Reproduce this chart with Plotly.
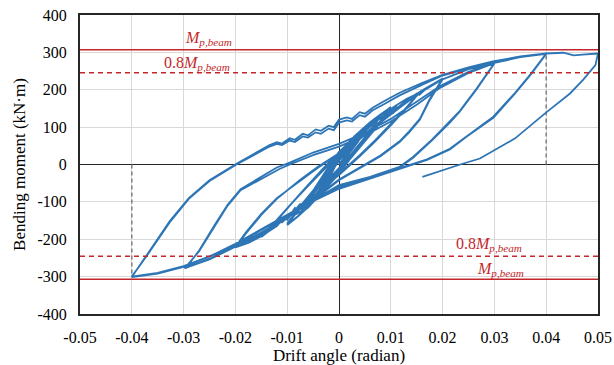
import plotly.graph_objects as go

# ---------------- data ----------------
drift_0375 = [0, 0.002, 0.00375, 0.002, 0, -0.002, -0.00375, -0.002, 0,
              0.002, 0.00375, 0.002, 0, -0.002, -0.00375, -0.002, 0,
              0.002, 0.00375, 0.002, 0, -0.002, -0.00375, -0.002, 0,
              0.002, 0.00375, 0.002, 0, -0.002, -0.00375, -0.002, 0]
moment_0375 = [0, 38, 62, 30, -10, -40, -64, -30, 10,
               42, 63, 32, -12, -42, -66, -28, 14,
               44, 64, 30, -11, -41, -65, -29, 15,
               45, 65, 31, -10, -40, -66, -27, 16]

drift_005 = [0.0015, 0.003, 0.005, 0.003, 0.0015, 0, -0.0015, -0.003, -0.005, -0.003, -0.0015, 0,
             0.0015, 0.003, 0.005, 0.003, 0.0015, 0, -0.0015, -0.003, -0.005, -0.003, -0.0015, 0,
             0.0015, 0.003, 0.005, 0.003, 0.0015, 0, -0.0015, -0.003, -0.005, -0.003, -0.0015, 0,
             0.0015, 0.003, 0.005, 0.003, 0.0015, 0, -0.0015, -0.003, -0.005, -0.003, -0.0015, 0]
moment_005 = [40, 62, 86, 52, 25, -12, -36, -60, -90, -55, -25, 15,
              38, 61, 85, 50, 24, -14, -37, -61, -91, -54, -24, 17,
              41, 63, 87, 53, 26, -13, -35, -59, -89, -56, -26, 16,
              42, 64, 88, 54, 27, -11, -34, -58, -90, -53, -23, 18]

drift_0075 = [0.002, 0.004, 0.006, 0.0075, 0.006, 0.004, 0.002, 0, -0.002, -0.004, -0.006, -0.0075, -0.006, -0.004, -0.002, 0,
              0.002, 0.004, 0.006, 0.0075, 0.006, 0.004, 0.002, 0, -0.002, -0.004, -0.006, -0.0075, -0.006, -0.004, -0.002, 0,
              0.002, 0.004, 0.006, 0.0075, 0.006, 0.004, 0.002, 0, -0.002, -0.004, -0.006, -0.0075, -0.006, -0.004, -0.002, 0,
              0.002, 0.004, 0.006, 0.0075, 0.006, 0.004, 0.002, 0, -0.002, -0.004, -0.006, -0.0075, -0.006, -0.004, -0.002, 0]
moment_0075 = [55, 82, 105, 120, 88, 55, 20, -18, -50, -82, -110, -130, -98, -62, -22, 22,
               54, 80, 104, 119, 86, 53, 18, -20, -52, -84, -111, -131, -96, -60, -20, 24,
               56, 83, 106, 121, 89, 56, 21, -17, -49, -81, -109, -129, -99, -63, -23, 25,
               57, 84, 107, 122, 90, 57, 22, -16, -48, -80, -108, -130, -97, -61, -21, 26]

drift_010 = [0.003, 0.006, 0.008, 0.01, 0.008, 0.005, 0.002, 0, -0.003, -0.006, -0.008, -0.01, -0.008, -0.005, -0.002, 0,
             0.003, 0.006, 0.008, 0.01, 0.008, 0.005, 0.002, 0, -0.003, -0.006, -0.0075, -0.008, -0.01, -0.008, -0.005, -0.002, 0,
             0.003, 0.006, 0.008, 0.01, 0.008, 0.005, 0.002, 0, -0.003, -0.006, -0.008, -0.01, -0.008, -0.005, -0.002, 0,
             0.003, 0.006, 0.0065, 0.008, 0.01, 0.008, 0.005, 0.002, 0, -0.003, -0.006, -0.007, -0.0085, -0.01, -0.008, -0.005, -0.002, 0]
moment_010 = [75, 112, 133, 152, 115, 65, 15, -22, -70, -115, -140, -162, -125, -75, -10, 30,
              73, 110, 131, 150, 112, 62, 12, -25, -72, -116, -128, -122, -160, -122, -72, -8, 32,
              76, 113, 134, 153, 116, 66, 16, -21, -69, -113, -139, -161, -124, -74, -9, 31,
              74, 111, 106, 132, 154, 117, 67, 17, -20, -68, -112, -124, -134, -158, -120, -70, -6, 34]

drift_015 = [0.004, 0.008, 0.011, 0.013, 0.0155, 0.013, 0.01, 0.007, 0.004, 0, -0.003, -0.006, -0.008, -0.0085,
             -0.0095, -0.011, -0.0115, -0.013, -0.015, -0.012, -0.009, -0.006, -0.003, 0, 0.003, 0.006, 0.008,
             0.0085, 0.0095, 0.011, 0.0115, 0.013, 0.0155, 0.013, 0.01, 0.007, 0.004, 0, -0.003, -0.006, -0.007,
             -0.0075, -0.009, -0.011, -0.0115, -0.013, -0.015, -0.012, -0.009, -0.006, -0.003, 0]
moment_015 = [85, 130, 158, 175, 192, 150, 105, 62, 22, -28, -62, -98, -122, -116,
              -138, -152, -146, -170, -192, -148, -100, -55, -10, 32, 68, 104, 128,
              122, 138, 155, 150, 172, 193, 152, 108, 65, 25, -25, -60, -100, -112,
              -106, -130, -155, -150, -172, -194, -150, -102, -58, -14, 28]

drift_020 = [0.004, 0.008, 0.01, 0.0105, 0.012, 0.015, 0.0155, 0.017, 0.02, 0.0175, 0.0156, 0.0135, 0.0117, 0.008,
             0.004, 0, -0.004, -0.008, -0.0085, -0.01, -0.0105, -0.012, -0.015, -0.0175, -0.02, -0.018, -0.015,
             -0.012, -0.0076, -0.004, 0, 0.004, 0.008, 0.012, 0.016, 0.02,
             0.0175, 0.0156, 0.0135, 0.0117, 0.008, 0.004, 0, -0.004, -0.008, -0.012, -0.016, -0.02,
             -0.018, -0.015, -0.012, -0.008, -0.004, 0, 0.004, 0.008, 0.012, 0.016, 0.02]
moment_020 = [78, 124, 142, 138, 160, 190, 186, 205, 228, 172, 120, 85, 60, 22,
              -10, -42, -85, -125, -120, -148, -140, -165, -192, -210, -222, -185, -135,
              -92, -42, -5, 30, 72, 115, 160, 198, 230,
              175, 122, 88, 62, 24, -8, -40, -82, -122, -162, -196, -220,
              -182, -132, -90, -48, -8, 28, 68, 112, 155, 195, 228]

drift_030 = [0.025, 0.03, 0.0265, 0.0233, 0.0214, 0.018, 0.0143, 0.0117, 0.006, 0, -0.005, -0.01, -0.015, -0.02,
             -0.025, -0.0298, -0.027, -0.024, -0.0215, -0.019, -0.015, -0.0115, -0.0095, -0.005, 0, 0.005, 0.01,
             0.015, 0.0195, 0.025, 0.03,
             0.0265, 0.0233, 0.0214, 0.018, 0.0143, 0.0117, 0.006, 0, -0.005, -0.01, -0.015, -0.02, -0.025, -0.0295,
             -0.027, -0.024, -0.0215, -0.019, -0.015, -0.012, -0.0095, -0.005, 0, 0.005, 0.01, 0.015, 0.0195, 0.025, 0.03]
moment_030 = [255, 270, 200, 141, 112, 65, 18, -8, -35, -58, -98, -142, -182, -218,
              -252, -278, -232, -165, -110, -69, -38, -12, 0, 25, 48, 78, 115,
              160, 205, 245, 271,
              202, 143, 115, 67, 20, -6, -33, -55, -96, -140, -184, -220, -254, -276,
              -230, -162, -108, -66, -33, -8, 5, 32, 55, 85, 122, 168, 210, 248, 272]

drift_040 = [0.035, 0.04, 0.037, 0.034, 0.0298, 0.0246, 0.0214, 0.017, 0.0117, 0.006, 0, -0.005, -0.01, -0.015,
             -0.02, -0.025, -0.03, -0.035, -0.04, -0.037, -0.0327, -0.029, -0.025, -0.0198, -0.016, -0.0134, -0.012,
             -0.011, -0.0095, -0.0085, -0.007, -0.006, -0.0045, -0.0035, -0.002, -0.001, 0, 0.0015, 0.0025, 0.004,
             0.005, 0.0065, 0.0085, 0.0117, 0.016, 0.02, 0.025, 0.0297, 0.035, 0.04,
             0.037, 0.034, 0.0298, 0.0246, 0.0214, 0.017, 0.0117, 0.006, 0, -0.005, -0.01, -0.015, -0.02, -0.025,
             -0.03, -0.035, -0.04, -0.037, -0.0327, -0.029, -0.025, -0.0198, -0.016, -0.0134, -0.012, -0.011,
             -0.0095, -0.0085, -0.007, -0.006, -0.0045, -0.0035, -0.002, -0.001, 0, 0.0015, 0.0025, 0.004, 0.005,
             0.0065, 0.0085, 0.0117, 0.016, 0.02, 0.025, 0.0297, 0.035, 0.04]
moment_040 = [287, 296, 240, 190, 125, 74, 40, 12, -12, -38, -65, -98, -136, -176,
              -214, -246, -272, -290, -300, -242, -155, -92, -44, 0, 28, 48, 55,
              52, 64, 60, 75, 72, 86, 82, 96, 92, 112, 118, 115, 132,
              128, 145, 160, 185, 213, 238, 258, 274, 288, 297,
              242, 192, 128, 76, 42, 14, -10, -36, -62, -96, -134, -174, -212, -246,
              -274, -292, -301, -240, -152, -90, -42, 2, 32, 52, 60, 56,
              70, 66, 82, 78, 94, 90, 104, 100, 120, 126, 122, 140, 136,
              152, 168, 192, 218, 240, 260, 276, 289, 297]

drift_050 = [0.0433, 0.0453, 0.047, 0.0485, 0.05, 0.0495, 0.0472, 0.0446, 0.0399, 0.034, 0.0272, 0.0234, 0.0161]
moment_050 = [299, 292, 294, 296, 297, 266, 228, 190, 138, 70, 16, 0, -33]

# reference values
mp_beam = 307                       # plastic moment of beam (kN·m)
ref_drift = [-0.04, 0.04]           # drift of the vertical guide marks
ref_moment = [-300, 295]            # moment reached at those drifts

x_ticks = [-0.05, -0.04, -0.03, -0.02, -0.01, 0, 0.01, 0.02, 0.03, 0.04, 0.05]
x_tick_text = ["-0.05", "-0.04", "-0.03", "-0.02", "-0.01", "0", "0.01", "0.02", "0.03", "0.04", "0.05"]
y_ticks = [-400, -300, -200, -100, 0, 100, 200, 300, 400]
y_tick_text = ["-400", "-300", "-200", "-100", "0", "100", "200", "300", "400"]

# ---------------- figure ----------------
drift_all = drift_0375 + drift_005 + drift_0075 + drift_010 + drift_015 + drift_020 + drift_030 + drift_040 + drift_050
moment_all = moment_0375 + moment_005 + moment_0075 + moment_010 + moment_015 + moment_020 + moment_030 + moment_040 + moment_050

RED = "#C3272B"
BLUE = "#2E75B6"
FONT = "Liberation Serif, Times New Roman, serif"

fig = go.Figure()

# vertical guide marks
for xd, ym in zip(ref_drift, ref_moment):
    fig.add_trace(go.Scatter(x=[xd, xd], y=[0, ym], mode="lines",
                             line=dict(color="#808080", width=1.5, dash="4px,3px"),
                             hoverinfo="skip", showlegend=False))

fig.add_trace(go.Scatter(x=drift_all, y=moment_all, mode="lines",
                         line=dict(color=BLUE, width=1.8), showlegend=False))

# Mp and 0.8Mp lines
for val, dash in [(mp_beam, "solid"), (-mp_beam, "solid"), (0.8 * mp_beam, "5px,4px"), (-0.8 * mp_beam, "5px,4px")]:
    fig.add_shape(type="line", xref="paper", x0=0, x1=1, yref="y", y0=val, y1=val,
                  line=dict(color=RED, width=1.6, dash=dash), layer="above")

mp_label = "<i>M</i><sub><i>p,beam</i></sub>"
mp08_label = "0.8<i>M</i><sub><i>p,beam</i></sub>"
ann_font = dict(family=FONT, size=16, color=RED)
fig.add_annotation(x=-0.0252, y=336, text=mp_label, showarrow=False, font=ann_font)
fig.add_annotation(x=-0.0274, y=270, text=mp08_label, showarrow=False, font=ann_font)
fig.add_annotation(x=0.029, y=-214, text=mp08_label, showarrow=False, font=ann_font)
fig.add_annotation(x=0.0311, y=-281, text=mp_label, showarrow=False, font=ann_font)

axis_common = dict(showgrid=True, gridcolor="#D9D9D9", gridwidth=1,
                   zeroline=True, zerolinecolor="#262626", zerolinewidth=1,
                   showline=True, linecolor="#262626", linewidth=2, mirror=True,
                   ticks="", automargin=False, ticklabelstandoff=8,
                   tickfont=dict(family=FONT, size=16, color="#000000"))

fig.update_xaxes(range=[-0.05, 0.05], tickvals=x_ticks, ticktext=x_tick_text,
                 title=dict(text="Drift angle (radian)", font=dict(family=FONT, size=17, color="#000000"),
                            standoff=2),
                 **axis_common)
fig.update_yaxes(range=[-400, 400], tickvals=y_ticks, ticktext=y_tick_text,
                 title=dict(text="Bending moment (kN·m)", font=dict(family=FONT, size=17, color="#000000"),
                            standoff=8),
                 **axis_common)

fig.update_layout(width=614, height=365, margin=dict(l=80, r=16, t=15, b=51),
                  plot_bgcolor="white", paper_bgcolor="white", showlegend=False)

# remove the browser's default page margin so the figure fills the window
fig.write_html("out.html", config={"displayModeBar": False},
               post_script="document.body.style.margin='0px';")
